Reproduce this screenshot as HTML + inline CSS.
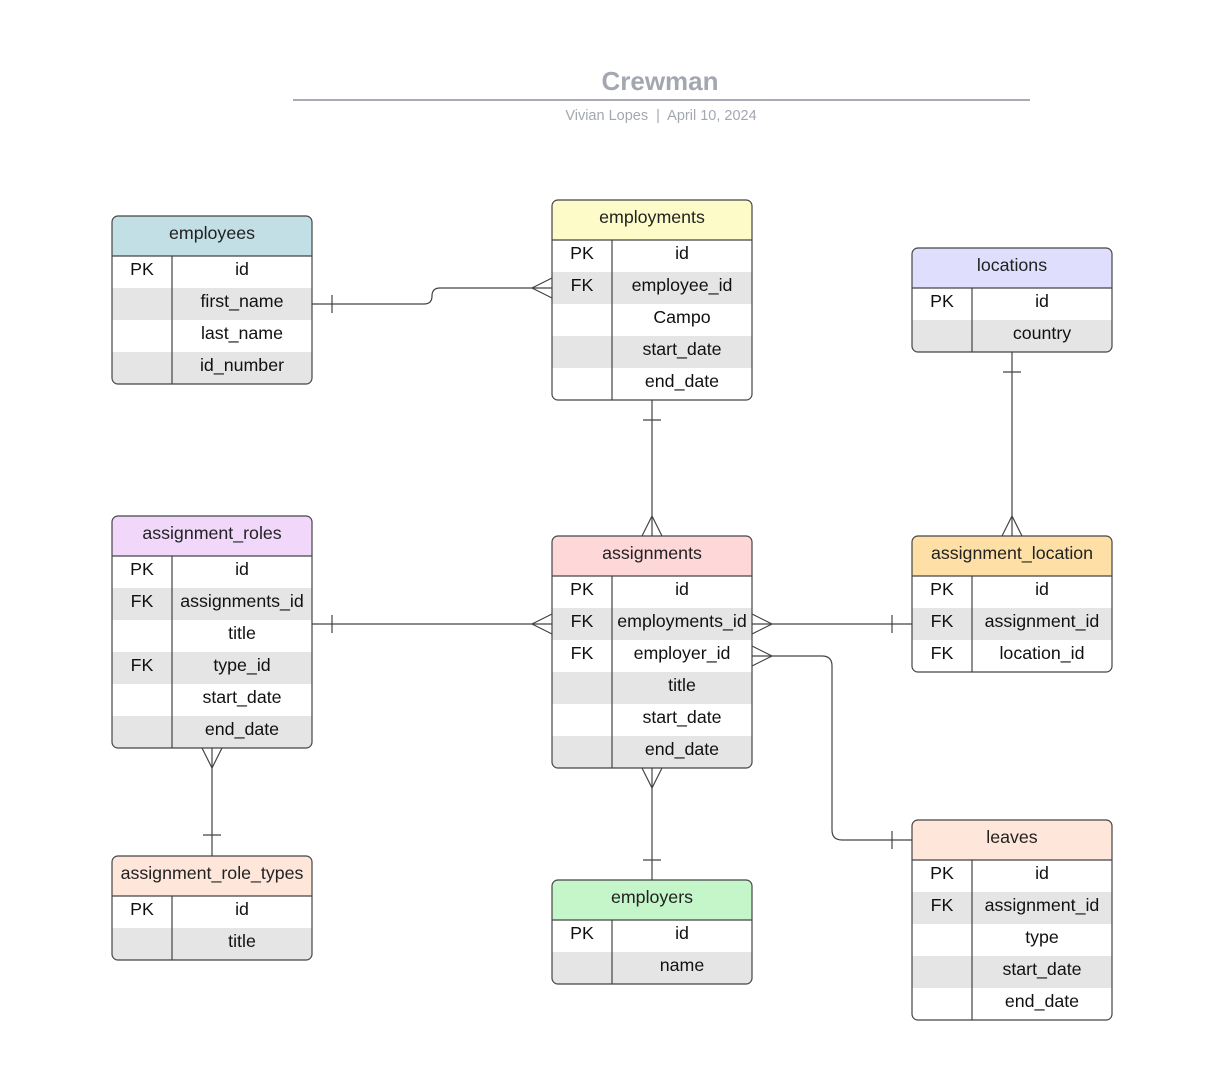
<!DOCTYPE html>
<html><head><meta charset="utf-8"><style>
html,body{margin:0;padding:0;background:#fff;}
svg{display:block;font-family:"Liberation Sans",Arial,sans-serif;}
.h{font-size:17.8px;fill:#222;text-anchor:middle;}
.c{font-size:17.8px;fill:#111;text-anchor:middle;}
.ln{stroke:#444;stroke-width:1.2;fill:none;}
</style></head><body>
<svg width="1227" height="1083" viewBox="0 0 1227 1083" xmlns="http://www.w3.org/2000/svg">
<rect width="1227" height="1083" fill="#fff"/>
<text x="660" y="90" text-anchor="middle" font-size="26" font-weight="bold" fill="#a3a7b0">Crewman</text>
<line x1="293" y1="100" x2="1030" y2="100" stroke="#a9acb6" stroke-width="2"/>
<text x="661" y="120" text-anchor="middle" font-size="14.5" fill="#a3a7b0">Vivian Lopes &#160;|&#160; April 10, 2024</text>

<g class="ln">
<path d="M312 304 H424 Q432 304 432 296 Q432 288 440 288 H552"/>
<line x1="332" y1="295" x2="332" y2="313"/>
<path d="M552 278 L532 288 L552 298"/>
<line x1="652" y1="400" x2="652" y2="536"/>
<line x1="643" y1="420" x2="661" y2="420"/>
<path d="M642 536 L652 516 L662 536"/>
<line x1="1012" y1="352" x2="1012" y2="536"/>
<line x1="1003" y1="372" x2="1021" y2="372"/>
<path d="M1002 536 L1012 516 L1022 536"/>
<line x1="312" y1="624" x2="552" y2="624"/>
<line x1="332" y1="615" x2="332" y2="633"/>
<path d="M552 614 L532 624 L552 634"/>
<line x1="752" y1="624" x2="912" y2="624"/>
<line x1="892" y1="615" x2="892" y2="633"/>
<path d="M752 614 L772 624 L752 634"/>
<path d="M752 656 H822 Q832 656 832 666 V830 Q832 840 842 840 H912"/>
<line x1="892" y1="831" x2="892" y2="849"/>
<path d="M752 646 L772 656 L752 666"/>
<line x1="212" y1="748" x2="212" y2="856"/>
<line x1="203" y1="835" x2="221" y2="835"/>
<path d="M202 748 L212 768 L222 748"/>
<line x1="652" y1="768" x2="652" y2="880"/>
<line x1="643" y1="860" x2="661" y2="860"/>
<path d="M642 768 L652 788 L662 768"/>
</g>

<defs>
<clipPath id="t1"><rect x="112" y="216" width="200" height="168" rx="6"/></clipPath>
<clipPath id="t2"><rect x="552" y="200" width="200" height="200" rx="6"/></clipPath>
<clipPath id="t3"><rect x="912" y="248" width="200" height="104" rx="6"/></clipPath>
<clipPath id="t4"><rect x="112" y="516" width="200" height="232" rx="6"/></clipPath>
<clipPath id="t5"><rect x="552" y="536" width="200" height="232" rx="6"/></clipPath>
<clipPath id="t6"><rect x="912" y="536" width="200" height="136" rx="6"/></clipPath>
<clipPath id="t7"><rect x="112" y="856" width="200" height="104" rx="6"/></clipPath>
<clipPath id="t8"><rect x="552" y="880" width="200" height="104" rx="6"/></clipPath>
<clipPath id="t9"><rect x="912" y="820" width="200" height="200" rx="6"/></clipPath>
</defs>

<g clip-path="url(#t1)">
<rect x="112" y="216" width="200" height="40" fill="#c1dfe4"/>
<rect x="112" y="256" width="200" height="128" fill="#fff"/>
<rect x="112" y="288" width="200" height="32" fill="#e5e5e5"/>
<rect x="112" y="352" width="200" height="32" fill="#e5e5e5"/>
</g>
<rect x="112" y="216" width="200" height="168" rx="6" class="ln"/>
<line x1="112" y1="256" x2="312" y2="256" class="ln"/>
<line x1="172" y1="256" x2="172" y2="384" class="ln"/>
<text class="h" x="212" y="239">employees</text>
<text class="c" x="142" y="275">PK</text><text class="c" x="242" y="275">id</text>
<text class="c" x="242" y="307">first_name</text>
<text class="c" x="242" y="339">last_name</text>
<text class="c" x="242" y="371">id_number</text>

<g clip-path="url(#t2)">
<rect x="552" y="200" width="200" height="40" fill="#fdfbc8"/>
<rect x="552" y="240" width="200" height="160" fill="#fff"/>
<rect x="552" y="272" width="200" height="32" fill="#e5e5e5"/>
<rect x="552" y="336" width="200" height="32" fill="#e5e5e5"/>
</g>
<rect x="552" y="200" width="200" height="200" rx="6" class="ln"/>
<line x1="552" y1="240" x2="752" y2="240" class="ln"/>
<line x1="612" y1="240" x2="612" y2="400" class="ln"/>
<text class="h" x="652" y="223">employments</text>
<text class="c" x="582" y="259">PK</text><text class="c" x="682" y="259">id</text>
<text class="c" x="582" y="291">FK</text><text class="c" x="682" y="291">employee_id</text>
<text class="c" x="682" y="323">Campo</text>
<text class="c" x="682" y="355">start_date</text>
<text class="c" x="682" y="387">end_date</text>

<g clip-path="url(#t3)">
<rect x="912" y="248" width="200" height="40" fill="#dfdffd"/>
<rect x="912" y="288" width="200" height="64" fill="#fff"/>
<rect x="912" y="320" width="200" height="32" fill="#e5e5e5"/>
</g>
<rect x="912" y="248" width="200" height="104" rx="6" class="ln"/>
<line x1="912" y1="288" x2="1112" y2="288" class="ln"/>
<line x1="972" y1="288" x2="972" y2="352" class="ln"/>
<text class="h" x="1012" y="271">locations</text>
<text class="c" x="942" y="307">PK</text><text class="c" x="1042" y="307">id</text>
<text class="c" x="1042" y="339">country</text>

<g clip-path="url(#t4)">
<rect x="112" y="516" width="200" height="40" fill="#f1d8fb"/>
<rect x="112" y="556" width="200" height="192" fill="#fff"/>
<rect x="112" y="588" width="200" height="32" fill="#e5e5e5"/>
<rect x="112" y="652" width="200" height="32" fill="#e5e5e5"/>
<rect x="112" y="716" width="200" height="32" fill="#e5e5e5"/>
</g>
<rect x="112" y="516" width="200" height="232" rx="6" class="ln"/>
<line x1="112" y1="556" x2="312" y2="556" class="ln"/>
<line x1="172" y1="556" x2="172" y2="748" class="ln"/>
<text class="h" x="212" y="539">assignment_roles</text>
<text class="c" x="142" y="575">PK</text><text class="c" x="242" y="575">id</text>
<text class="c" x="142" y="607">FK</text><text class="c" x="242" y="607">assignments_id</text>
<text class="c" x="242" y="639">title</text>
<text class="c" x="142" y="671">FK</text><text class="c" x="242" y="671">type_id</text>
<text class="c" x="242" y="703">start_date</text>
<text class="c" x="242" y="735">end_date</text>

<g clip-path="url(#t5)">
<rect x="552" y="536" width="200" height="40" fill="#fed7d9"/>
<rect x="552" y="576" width="200" height="192" fill="#fff"/>
<rect x="552" y="608" width="200" height="32" fill="#e5e5e5"/>
<rect x="552" y="672" width="200" height="32" fill="#e5e5e5"/>
<rect x="552" y="736" width="200" height="32" fill="#e5e5e5"/>
</g>
<rect x="552" y="536" width="200" height="232" rx="6" class="ln"/>
<line x1="552" y1="576" x2="752" y2="576" class="ln"/>
<line x1="612" y1="576" x2="612" y2="768" class="ln"/>
<text class="h" x="652" y="559">assignments</text>
<text class="c" x="582" y="595">PK</text><text class="c" x="682" y="595">id</text>
<text class="c" x="582" y="627">FK</text><text class="c" x="682" y="627">employments_id</text>
<text class="c" x="582" y="659">FK</text><text class="c" x="682" y="659">employer_id</text>
<text class="c" x="682" y="691">title</text>
<text class="c" x="682" y="723">start_date</text>
<text class="c" x="682" y="755">end_date</text>

<g clip-path="url(#t6)">
<rect x="912" y="536" width="200" height="40" fill="#fedfa6"/>
<rect x="912" y="576" width="200" height="96" fill="#fff"/>
<rect x="912" y="608" width="200" height="32" fill="#e5e5e5"/>
</g>
<rect x="912" y="536" width="200" height="136" rx="6" class="ln"/>
<line x1="912" y1="576" x2="1112" y2="576" class="ln"/>
<line x1="972" y1="576" x2="972" y2="672" class="ln"/>
<text class="h" x="1012" y="559">assignment_location</text>
<text class="c" x="942" y="595">PK</text><text class="c" x="1042" y="595">id</text>
<text class="c" x="942" y="627">FK</text><text class="c" x="1042" y="627">assignment_id</text>
<text class="c" x="942" y="659">FK</text><text class="c" x="1042" y="659">location_id</text>

<g clip-path="url(#t7)">
<rect x="112" y="856" width="200" height="40" fill="#fee6da"/>
<rect x="112" y="896" width="200" height="64" fill="#fff"/>
<rect x="112" y="928" width="200" height="32" fill="#e5e5e5"/>
</g>
<rect x="112" y="856" width="200" height="104" rx="6" class="ln"/>
<line x1="112" y1="896" x2="312" y2="896" class="ln"/>
<line x1="172" y1="896" x2="172" y2="960" class="ln"/>
<text class="h" x="212" y="879">assignment_role_types</text>
<text class="c" x="142" y="915">PK</text><text class="c" x="242" y="915">id</text>
<text class="c" x="242" y="947">title</text>

<g clip-path="url(#t8)">
<rect x="552" y="880" width="200" height="40" fill="#c4f6c9"/>
<rect x="552" y="920" width="200" height="64" fill="#fff"/>
<rect x="552" y="952" width="200" height="32" fill="#e5e5e5"/>
</g>
<rect x="552" y="880" width="200" height="104" rx="6" class="ln"/>
<line x1="552" y1="920" x2="752" y2="920" class="ln"/>
<line x1="612" y1="920" x2="612" y2="984" class="ln"/>
<text class="h" x="652" y="903">employers</text>
<text class="c" x="582" y="939">PK</text><text class="c" x="682" y="939">id</text>
<text class="c" x="682" y="971">name</text>

<g clip-path="url(#t9)">
<rect x="912" y="820" width="200" height="40" fill="#fee6da"/>
<rect x="912" y="860" width="200" height="160" fill="#fff"/>
<rect x="912" y="892" width="200" height="32" fill="#e5e5e5"/>
<rect x="912" y="956" width="200" height="32" fill="#e5e5e5"/>
</g>
<rect x="912" y="820" width="200" height="200" rx="6" class="ln"/>
<line x1="912" y1="860" x2="1112" y2="860" class="ln"/>
<line x1="972" y1="860" x2="972" y2="1020" class="ln"/>
<text class="h" x="1012" y="843">leaves</text>
<text class="c" x="942" y="879">PK</text><text class="c" x="1042" y="879">id</text>
<text class="c" x="942" y="911">FK</text><text class="c" x="1042" y="911">assignment_id</text>
<text class="c" x="1042" y="943">type</text>
<text class="c" x="1042" y="975">start_date</text>
<text class="c" x="1042" y="1007">end_date</text>
</svg>
</body></html>
